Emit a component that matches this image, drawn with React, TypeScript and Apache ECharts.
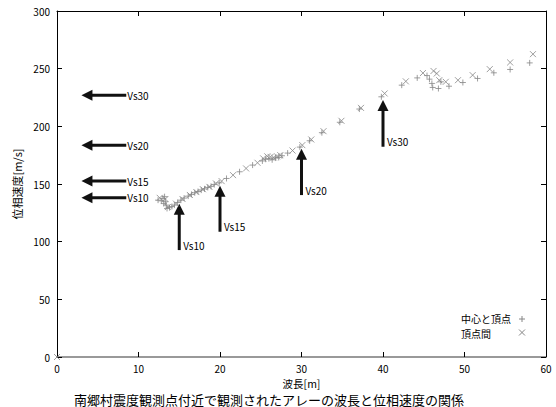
import React, { useEffect, useRef } from "react";
import * as echarts from "echarts";

const FONT = '"Noto Sans CJK JP", "Noto Sans", sans-serif';

const xTicks = { min: 0, max: 60, interval: 10 };
const yTicks = { min: 0, max: 300, interval: 50 };

const xName = "波長[m]";
const yName = "位相速度[m/s]";
const titleText = "南郷村震度観測点付近で観測されたアレーの波長と位相速度の関係";
const seriesNames = ["中心と頂点", "頂点間"];

// 中心と頂点 (+)
const plusData: number[][] = [
  [12.4, 136], [12.8, 135.4], [13.0, 137.5], [13.2, 139], [13.3, 134.6], [13.4, 131.7], [13.5, 128.8], [13.1, 133],
  [13.8, 129.5], [14.1, 130.5], [14.4, 131.7], [14.8, 134], [15.2, 136], [15.6, 137.8], [16.1, 139.5], [16.5, 141],
  [16.9, 142.4], [17.3, 143.5], [17.7, 144.7], [18.1, 145.8], [18.5, 147], [18.9, 148], [19.3, 149.5], [19.9, 151],
  [20.8, 154.8], [22.4, 160.6], [24.0, 166.4], [25.2, 170], [25.6, 171.5], [26.0, 172], [26.4, 171], [26.8, 172.5],
  [27.2, 173], [27.6, 174.5], [28.3, 176.8], [29.8, 182], [31.0, 187.5], [32.5, 194.5], [34.7, 203.5], [37.1, 215],
  [39.8, 225.6], [42.3, 235.7], [44.2, 242], [45.4, 244], [45.7, 240.9], [46.0, 237.2], [46.1, 233.7], [46.8, 232.8],
  [47.1, 238.6], [48.1, 234.8], [49.8, 238], [51.6, 241.5], [53.6, 246.4], [55.6, 249.3], [58.0, 255],
];

// 頂点間 (×)
const crossData: number[][] = [
  [0, 0], [12.6, 138], [13.3, 137], [13.6, 130], [14.6, 133], [15.4, 137], [16.3, 140.5], [17.1, 143],
  [17.9, 145.5], [18.7, 147.5], [19.5, 150.5], [20.2, 152.5], [21.6, 157.7], [23.2, 163.5], [24.6, 168.4],
  [25.3, 172.2], [25.8, 174], [26.2, 173.5], [26.6, 173], [27.0, 174], [27.4, 175], [28.9, 179], [30.1, 183.7],
  [31.2, 188.6], [32.7, 195.8], [34.9, 204.8], [37.3, 216], [40.2, 228.5], [42.8, 239], [44.9, 246.2],
  [46.2, 248], [46.6, 245.8], [46.9, 240], [47.7, 238.6], [49.2, 240], [51.0, 244.4], [53.1, 249.6],
  [55.6, 255.4], [58.4, 262.6],
];

// arrows: [tailX, tailY, tipX, tipY, vertical(1)/horizontal(0)]
const arrowData: number[][] = [
  [8.5, 227, 3.0, 227, 0],
  [8.5, 183.5, 3.0, 183.5, 0],
  [8.5, 152.5, 3.0, 152.5, 0],
  [8.5, 138, 3.0, 138, 0],
  [15, 92.7, 15, 132.8, 1],
  [20, 108.6, 20, 148.5, 1],
  [30, 140.4, 30, 180.5, 1],
  [40, 182.3, 40, 222.8, 1],
];
const arrowLabels = ["Vs30", "Vs20", "Vs15", "Vs10", "Vs10", "Vs15", "Vs20", "Vs30"];

const MARK = "#868686";
const plusPath = "path://M5,0L5,10M0,5L10,5";
const crossPath = "path://M0,0L10,10M10,0L0,10";

export default function App() {
  const ref = useRef<HTMLDivElement>(null);
  useEffect(() => {
    if (!ref.current) return;
    const chart = echarts.init(ref.current, undefined, { renderer: "svg" });
    const tickStyle = { show: true, inside: true, length: 5, lineStyle: { color: "#000", width: 1 } };
    const labelStyle = { fontFamily: FONT, fontSize: 10, color: "#000" };
    chart.setOption({
      animation: false,
      backgroundColor: "#fff",
      grid: { left: 57, right: 10, top: 11, bottom: 50, containLabel: false },
      xAxis: [
        {
          type: "value", position: "bottom", ...xTicks,
          axisLine: { show: true, onZero: false, lineStyle: { color: "#999", width: 2 } },
          axisTick: tickStyle,
          axisLabel: { ...labelStyle, margin: 6 },
          splitLine: { show: false },
          name: xName, nameLocation: "middle", nameGap: 15,
          nameTextStyle: { fontFamily: FONT, fontSize: 10.5, color: "#000", lineHeight: 11 },
        },
        {
          type: "value", position: "top", ...xTicks,
          axisLine: { show: true, onZero: false, lineStyle: { color: "#000", width: 1 } },
          axisTick: tickStyle, axisLabel: { show: false }, splitLine: { show: false },
        },
      ],
      yAxis: [
        {
          type: "value", position: "left", ...yTicks,
          axisLine: { show: true, onZero: false, lineStyle: { color: "#000", width: 1 } },
          axisTick: tickStyle,
          axisLabel: { ...labelStyle, margin: 7 },
          splitLine: { show: false },
          name: yName, nameLocation: "middle", nameGap: 32,
          nameTextStyle: { fontFamily: FONT, fontSize: 11, color: "#000" },
        },
        {
          type: "value", position: "right", ...yTicks,
          axisLine: { show: true, onZero: false, lineStyle: { color: "#000", width: 1 } },
          axisTick: tickStyle, axisLabel: { show: false }, splitLine: { show: false },
        },
      ],
      series: [
        {
          name: seriesNames[0], type: "scatter", data: plusData, symbol: plusPath, symbolSize: 6,
          itemStyle: { color: "transparent", borderColor: MARK, borderWidth: 1 },
        },
        {
          name: seriesNames[1], type: "scatter", data: crossData, symbol: crossPath, symbolSize: 6,
          itemStyle: { color: "transparent", borderColor: MARK, borderWidth: 1 },
        },
        {
          type: "custom", data: arrowData, encode: { x: [0, 2], y: [1, 3] }, silent: true,
          renderItem: (params: any, api: any) => {
            const t = api.coord([api.value(0), api.value(1)]);
            const h = api.coord([api.value(2), api.value(3)]);
            const vertical = api.value(4) === 1;
            const dx = h[0] - t[0], dy = h[1] - t[1];
            const len = Math.sqrt(dx * dx + dy * dy);
            const ux = dx / len, uy = dy / len;
            const px = -uy, py = ux;
            const headLen = 11, headW = 5.5;
            const bx = h[0] - ux * headLen, by = h[1] - uy * headLen;
            const label = arrowLabels[params.dataIndex];
            const text = vertical
              ? { type: "text", style: { text: label, x: t[0] + 4, y: t[1] - 5, fontFamily: FONT, fontSize: 10, fill: "#000", align: "left", verticalAlign: "middle" } }
              : { type: "text", style: { text: label, x: t[0] + 1, y: t[1], fontFamily: FONT, fontSize: 10, fill: "#000", align: "left", verticalAlign: "middle" } };
            return {
              type: "group",
              children: [
                { type: "line", shape: { x1: t[0], y1: t[1], x2: bx + ux * 1, y2: by + uy * 1 }, style: { stroke: "#111", lineWidth: 3 } },
                {
                  type: "polygon",
                  shape: { points: [[h[0], h[1]], [bx + px * headW, by + py * headW], [bx - px * headW, by - py * headW]] },
                  style: { fill: "#111" },
                },
                text,
              ],
            };
          },
        },
      ],
      graphic: [
        { type: "text", x: 461, y: 318.5, style: { text: seriesNames[0], fontFamily: FONT, fontSize: 10, lineHeight: 10, fill: "#000", verticalAlign: "middle" } },
        { type: "text", x: 461, y: 333, style: { text: seriesNames[1], fontFamily: FONT, fontSize: 10, lineHeight: 10, fill: "#000", verticalAlign: "middle" } },
        { type: "line", shape: { x1: 519, y1: 319, x2: 525, y2: 319 }, style: { stroke: MARK, lineWidth: 1 } },
        { type: "line", shape: { x1: 522, y1: 316, x2: 522, y2: 322 }, style: { stroke: MARK, lineWidth: 1 } },
        { type: "line", shape: { x1: 519, y1: 329.5, x2: 525, y2: 335.5 }, style: { stroke: MARK, lineWidth: 1 } },
        { type: "line", shape: { x1: 525, y1: 329.5, x2: 519, y2: 335.5 }, style: { stroke: MARK, lineWidth: 1 } },
        { type: "text", x: 269, y: 399, style: { text: titleText, fontFamily: FONT, fontSize: 13, lineHeight: 14, fill: "#000", align: "center", verticalAlign: "middle" } },
      ],
    });
    return () => chart.dispose();
  }, []);
  return <div ref={ref} style={{ position: "fixed", left: 0, top: 0, width: 556, height: 407 }} />;
}
